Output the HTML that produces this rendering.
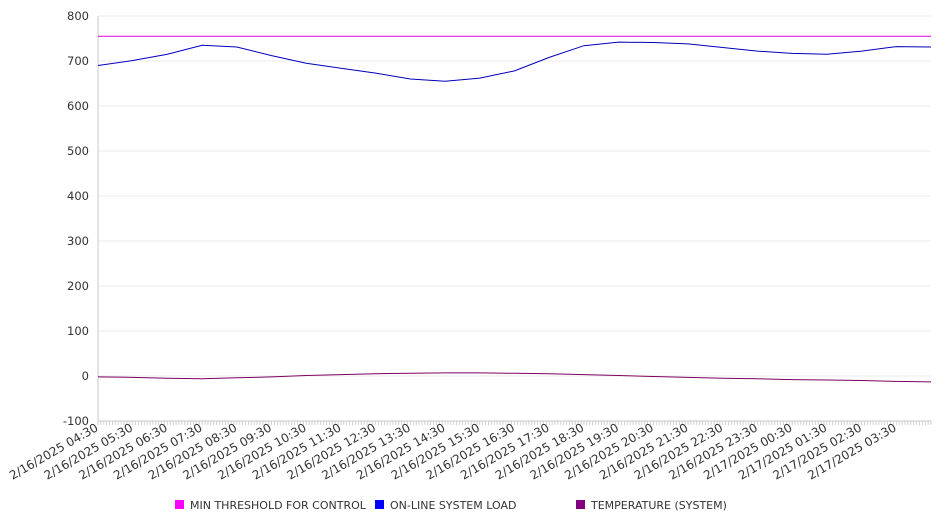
<!DOCTYPE html>
<html><head><meta charset="utf-8"><style>
body{margin:0;background:#fff;font-family:"Liberation Sans","DejaVu Sans",sans-serif;}
svg text{font-family:"DejaVu Sans","Liberation Sans",sans-serif;}
</style></head><body>
<svg id="chart" width="946" height="526" xmlns="http://www.w3.org/2000/svg"></svg>
<script>
const hours = ["04:30","05:30","06:30","07:30","08:30","09:30","10:30","11:30","12:30","13:30","14:30","15:30","16:30","17:30","18:30","19:30","20:30","21:30","22:30","23:30","00:30","01:30","02:30","03:30"];
const dates = ["2/16/2025","2/16/2025","2/16/2025","2/16/2025","2/16/2025","2/16/2025","2/16/2025","2/16/2025","2/16/2025","2/16/2025","2/16/2025","2/16/2025","2/16/2025","2/16/2025","2/16/2025","2/16/2025","2/16/2025","2/16/2025","2/16/2025","2/16/2025","2/17/2025","2/17/2025","2/17/2025","2/17/2025"];
const loadValues = [690,701,715,735,731,712,695,684,673,660,655,662,678,708,734,742,741,738,730,722,717,715,722,732,731];
const tempValues = [-2,-3,-5,-6,-4,-2,1,3,5,6,7,7,6,5,3,1,-1,-3,-5,-6,-8,-9,-10,-12,-13];
const thresholdValues = [755,755];
const yTicks = [800,700,600,500,400,300,200,100,0,-100];
const legendLabels = ["MIN THRESHOLD FOR CONTROL","ON-LINE SYSTEM LOAD","TEMPERATURE (SYSTEM)"];
const legendColors = ["#ff00ff","#0000ff","#800080"];

const svg = document.getElementById('chart');
const NS = "http://www.w3.org/2000/svg";
const X0=98, X1=931, Y0=16, Y1=421;
const xH = h => X0 + h*(X1-X0)/24;
const yV = v => Y1 - (v+100)*(Y1-Y0)/900;
function mk(tag, attrs){const e=document.createElementNS(NS,tag);for(const k in attrs)e.setAttribute(k,attrs[k]);svg.appendChild(e);return e;}

yTicks.forEach(t=>{
  const g=mk('line',{x1:X0,x2:X1,y1:yV(t),y2:yV(t),stroke:'#ebebeb','stroke-width':1});
  
  
  const tx=mk('text',{x:89,y:yV(t)+4,'text-anchor':'end','font-size':11.5,fill:'#333'});
  tx.textContent=t;
  
  
});
const ax=mk('line',{x1:X0,x2:X0,y1:Y0,y2:Y1,stroke:'#c8c8c8'});


const xa=mk('line',{x1:X0,x2:X1,y1:Y1,y2:Y1,stroke:'#c8c8c8'});


for(let i=0;i<=288;i++){
  const x=X0+i*(X1-X0)/288;
  const tk=mk('line',{x1:x,x2:x,y1:Y1,y2:Y1+4,stroke:'#c8c8c8','stroke-width':0.8});
  
  
}
hours.forEach((h,i)=>{
  const x=xH(i)+1;
  const y=Y1+9;
  const t=mk('text',{x:x,y:y,'text-anchor':'end','font-size':12,fill:'#333',transform:`rotate(-30 ${x} ${y})`});
  t.textContent=dates[i]+' '+h;
  
  
});
function series(vals,color,name,step){
  const pts=vals.map((v,i)=>xH(i*step)+','+yV(v)).join(' ');
  const p=mk('polyline',{points:pts,fill:'none',stroke:color,'stroke-width':1});
  
  
}
series(thresholdValues,'#dd00dd','min-threshold-line',24);
series(loadValues,'#0000bb','system-load-line',1);
series(tempValues,'#800060','temperature-line',1);

const lx=[175,375,576];
legendLabels.forEach((l,i)=>{
  const r=mk('rect',{x:lx[i],y:500,width:9,height:9,fill:legendColors[i]});
  
  
  const t=mk('text',{x:lx[i]+15,y:509,'font-size':11,fill:'#333'});
  t.textContent=l;
  
  
});
</script>
</body></html>
